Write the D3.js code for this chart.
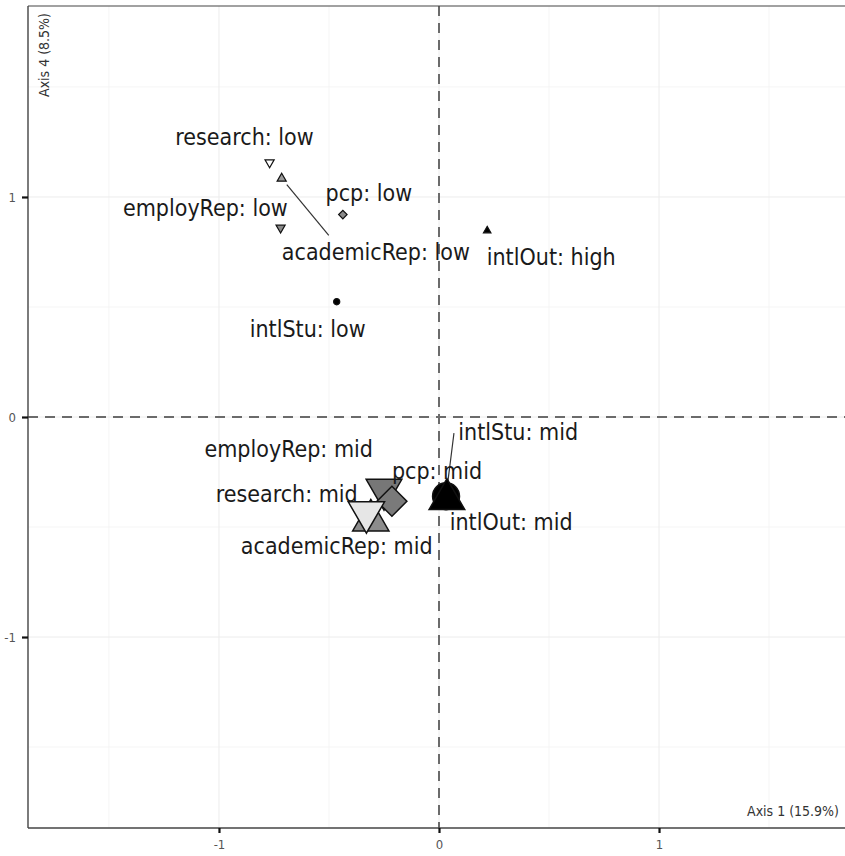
<!DOCTYPE html>
<html>
<head>
<meta charset="utf-8">
<script src="https://cdn.jsdelivr.net/npm/d3@7"></script>
<style>
  html, body { margin: 0; padding: 0; background: #fff; }
  svg text { font-family: "Liberation Sans Narrow", "DejaVu Sans Condensed", Roboto, sans-serif; font-stretch: condensed; }
</style>
</head>
<body>
<div id="chart"></div>
<script>
// category points (MCA, axes 1 and 4)
const variables = ['academicRep', 'employRep', 'pcp', 'research', 'intlStu', 'intlOut',
                   'academicRep', 'employRep', 'pcp', 'research', 'intlStu', 'intlOut'];
const levels    = ['low', 'low', 'low', 'low', 'low', 'high',
                   'mid', 'mid', 'mid', 'mid', 'mid', 'mid'];
const axis1     = [-0.715, -0.72, -0.437, -0.77, -0.465, 0.219,
                   -0.31, -0.25, -0.214, -0.33, 0.032, 0.036];
const axis4     = [1.084, 0.86, 0.92, 1.157, 0.524, 0.847,
                   -0.47, -0.33, -0.383, -0.433, -0.36, -0.374];
const weight    = [0.06, 0.06, 0.07, 0.06, 0.05, 0.04,
                   0.95, 0.92, 0.88, 0.95, 0.95, 0.92];

// repelled label anchors (data units)
const labelX    = [-0.287, -1.062, -0.319, -0.884, -0.597, 0.510,
                   -0.465, -0.683, -0.009, -0.692, 0.360, 0.328];
const labelY    = [0.752, 0.952, 1.020, 1.271, 0.401, 0.729,
                   -0.588, -0.146, -0.246, -0.351, -0.068, -0.478];
// leader segment ends (null = no segment)
const segX      = [-0.501, null, null, null, null, null, null, null, null, null, 0.068, null];
const segY      = [0.825, null, null, null, null, null, null, null, null, null, -0.073, null];

const xMajor = [-1, 0, 1];
const yMajor = [-1, 0, 1];
const xMinor = [-1.5, -0.5, 0.5, 1.5];
const yMinor = [-1.5, -0.5, 0.5, 1.5];

const shapes = {
  academicRep: 'up', employRep: 'down', pcp: 'diamond',
  research: 'down', intlStu: 'circle', intlOut: 'up'
};
const fills = {
  'academicRep:low': '#9a9a9a', 'academicRep:mid': '#8c8c8c',
  'employRep:low': '#8a8a8a', 'employRep:mid': '#777777',
  'pcp:low': '#8a8a8a', 'pcp:mid': '#7a7a7a',
  'research:low': '#ffffff', 'research:mid': '#e6e6e6',
  'intlStu:low': '#000000', 'intlStu:mid': '#000000',
  'intlOut:high': '#000000', 'intlOut:mid': '#000000'
};

(function() {
  'use strict';

  const W = 845, H = 856,
        left = 28, right = 850, top = 6, bottom = 828;

  const svg = d3.select('#chart').append('svg')
    .attr('width', W).attr('height', H);

  const x = d3.scaleLinear().domain([-1.868, 1.868]).range([left, right]),
        y = d3.scaleLinear().domain([-1.868, 1.868]).range([bottom, top]),
        area = d3.scaleLinear().domain([0, 1]).range([0, 600]);

  const panel = svg.append('g');

  // grid
  panel.selectAll('.minor-x').data(xMinor).enter().append('line')
    .attr('x1', d => x(d)).attr('x2', d => x(d)).attr('y1', top).attr('y2', bottom)
    .attr('stroke', '#f3f3f3').attr('stroke-width', 0.8);
  panel.selectAll('.minor-y').data(yMinor).enter().append('line')
    .attr('y1', d => y(d)).attr('y2', d => y(d)).attr('x1', left).attr('x2', W)
    .attr('stroke', '#f3f3f3').attr('stroke-width', 0.8);
  panel.selectAll('.major-x').data(xMajor).enter().append('line')
    .attr('x1', d => x(d)).attr('x2', d => x(d)).attr('y1', top).attr('y2', bottom)
    .attr('stroke', '#ececec').attr('stroke-width', 1);
  panel.selectAll('.major-y').data(yMajor).enter().append('line')
    .attr('y1', d => y(d)).attr('y2', d => y(d)).attr('x1', left).attr('x2', W)
    .attr('stroke', '#ececec').attr('stroke-width', 1);

  // zero reference lines
  panel.append('line')
    .attr('x1', x(0)).attr('x2', x(0)).attr('y1', top).attr('y2', bottom)
    .attr('stroke', '#6b6b6b').attr('stroke-width', 2).attr('stroke-dasharray', '10,7');
  panel.append('line')
    .attr('y1', y(0)).attr('y2', y(0)).attr('x1', left).attr('x2', W)
    .attr('stroke', '#6b6b6b').attr('stroke-width', 2).attr('stroke-dasharray', '10,7');

  const data = variables.map((v, i) => ({
    v: v, lvl: levels[i], x: axis1[i], y: axis4[i], w: weight[i],
    lx: labelX[i], ly: labelY[i], sx: segX[i], sy: segY[i]
  }));

  // leader segments, padded away from the point
  panel.selectAll('.seg').data(data.filter(d => d.sx !== null)).enter().append('line')
    .each(function(d) {
      const x0 = x(d.x), y0 = y(d.y), x1 = x(d.sx), y1 = y(d.sy),
            len = Math.hypot(x1 - x0, y1 - y0), pad = 8 / len;
      d3.select(this)
        .attr('x1', x0 + (x1 - x0) * pad).attr('y1', y0 + (y1 - y0) * pad)
        .attr('x2', x1).attr('y2', y1);
    })
    .attr('stroke', '#333').attr('stroke-width', 1.2);

  const symbolFor = d => {
    const s = shapes[d.v];
    const type = s === 'circle' ? d3.symbolCircle
               : s === 'diamond' ? d3.symbolSquare : d3.symbolTriangle;
    const a = area(d.w) * (s === 'diamond' ? 0.85 : 1);
    return d3.symbol().type(type).size(a)();
  };
  const rot = d => shapes[d.v] === 'down' ? 180 : shapes[d.v] === 'diamond' ? 45 : 0;

  panel.selectAll('.pt').data(data).enter().append('path')
    .attr('d', symbolFor)
    .attr('transform', d => `translate(${x(d.x)},${y(d.y)}) rotate(${rot(d)})`)
    .attr('fill', d => fills[d.v + ':' + d.lvl])
    .attr('stroke', '#111')
    .attr('stroke-width', d => d.w > 0.5 ? 1.5 : 1.2);

  // labels
  panel.selectAll('.lab').data(data).enter().append('text')
    .attr('x', d => x(d.lx)).attr('y', d => y(d.ly))
    .attr('text-anchor', 'middle').attr('dominant-baseline', 'central')
    .attr('font-size', 23).attr('fill', '#1a1a1a')
    .text(d => `${d.v}: ${d.lvl}`);

  // frame lines
  svg.append('line').attr('x1', left).attr('x2', W).attr('y1', top).attr('y2', top)
    .attr('stroke', '#444').attr('stroke-width', 1.2);
  svg.append('line').attr('x1', left).attr('x2', left).attr('y1', top).attr('y2', bottom)
    .attr('stroke', '#444').attr('stroke-width', 1.4);
  svg.append('line').attr('x1', left).attr('x2', W).attr('y1', bottom).attr('y2', bottom)
    .attr('stroke', '#444').attr('stroke-width', 1.4);

  // axes
  const xAxis = d3.axisBottom(x).tickValues(xMajor).tickSize(5).tickPadding(7).tickFormat(d3.format('d'));
  const yAxis = d3.axisLeft(y).tickValues(yMajor).tickSize(6).tickPadding(6).tickFormat(d3.format('d'));
  const gx = svg.append('g').attr('transform', `translate(0,${bottom})`).call(xAxis);
  const gy = svg.append('g').attr('transform', `translate(${left},0)`).call(yAxis);
  [gx, gy].forEach(g => {
    g.select('.domain').remove();
    g.selectAll('.tick line').attr('stroke', '#111').attr('stroke-width', 2.2);
    g.selectAll('.tick text').attr('fill', '#555').attr('font-size', 13)
      .text(d => d < 0 ? '-' + Math.abs(d) : d);
  });

  // axis titles
  svg.append('text')
    .attr('transform', `translate(49,13) rotate(-90)`)
    .attr('text-anchor', 'end').attr('font-size', 14).attr('fill', '#333')
    .text('Axis 4 (8.5%)');
  svg.append('text')
    .attr('x', 839).attr('y', 816)
    .attr('text-anchor', 'end').attr('font-size', 14).attr('fill', '#333')
    .text('Axis 1 (15.9%)');
})();
</script>
</body>
</html>
